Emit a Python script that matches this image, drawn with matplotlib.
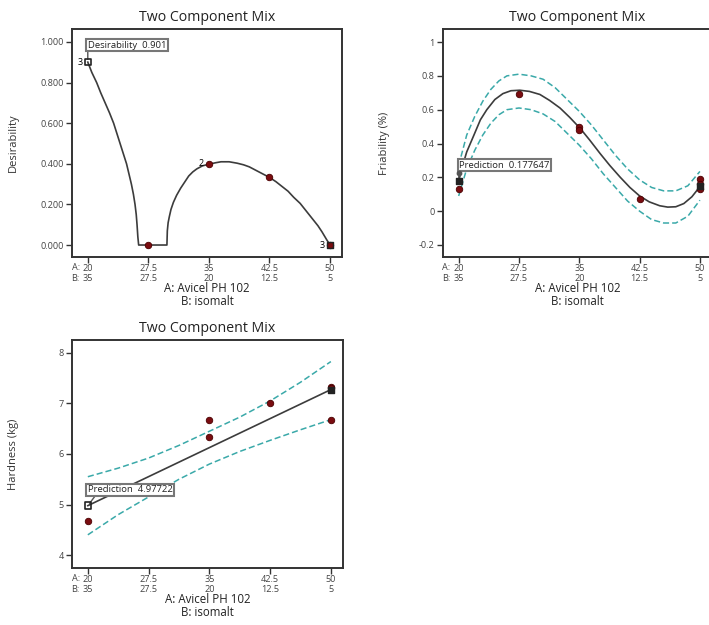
import matplotlib.pyplot as plt
import matplotlib.transforms as mtransforms

plt.rcParams['font.family'] = ['Open Sans', 'DejaVu Sans']

# shared x axis
x_ticks = [20, 27.5, 35, 42.5, 50]
b_ticks = ['35', '27.5', '20', '12.5', '5']

# Desirability
des_x = [20, 20.5, 21.1, 21.6, 22.15, 22.7, 23.2, 23.6, 24.0, 24.4, 24.8, 25.1, 25.4, 25.65, 25.85,
         26.0, 26.1, 26.2, 26.3, 29.8, 29.85, 29.95, 30.1, 30.3, 30.6, 31.0, 31.5, 32.0, 32.5, 33.0,
         33.5, 34.2, 35, 35.8, 36.5, 37.5, 38.5, 39.3, 40, 41.2, 42.5, 43.3, 44, 44.8, 45.5, 46.3,
         47, 47.5, 48, 48.5, 49, 49.6, 50]
des_y = [0.901, 0.85, 0.80, 0.75, 0.70, 0.65, 0.60, 0.55, 0.50, 0.45, 0.40, 0.35, 0.30, 0.25, 0.20,
         0.15, 0.10, 0.04, 0.0, 0.0, 0.07, 0.11, 0.14, 0.175, 0.21, 0.245, 0.28, 0.31, 0.34, 0.36,
         0.375, 0.39, 0.398, 0.405, 0.41, 0.41, 0.403, 0.395, 0.385, 0.36, 0.333, 0.312, 0.29, 0.265,
         0.235, 0.205, 0.17, 0.145, 0.12, 0.095, 0.065, 0.025, 0.0]
des_pts_x = [27.5, 35, 42.5, 50]
des_pts_y = [0.0, 0.398, 0.333, 0.0]

# Friability
fri_x = [20, 20.5, 21, 21.9, 22.7, 23.5, 24.5, 25.5, 26.5, 27.6, 28.8, 30.1, 31.3, 32.6, 33.8,
         35.1, 36.3, 37.6, 38.8, 40.1, 41.3, 42.5, 43.7, 45, 46, 47, 48, 49, 50]
fri_y = [0.178, 0.27, 0.35, 0.45, 0.54, 0.60, 0.66, 0.695, 0.712, 0.715, 0.708, 0.69, 0.655, 0.61,
         0.555, 0.49, 0.42, 0.34, 0.27, 0.20, 0.14, 0.09, 0.055, 0.032, 0.024, 0.026, 0.045, 0.085, 0.145]
fri_band_x = [20, 21, 22, 23, 24, 25, 26, 27.5, 29, 30.5, 32, 33.5, 35, 36.5, 38, 39.5, 41, 42.5,
              44, 45.5, 47, 48.5, 50]
fri_hi = [0.27, 0.45, 0.56, 0.65, 0.72, 0.77, 0.80, 0.81, 0.80, 0.78, 0.73, 0.66, 0.59, 0.51, 0.42,
          0.33, 0.25, 0.185, 0.14, 0.12, 0.12, 0.15, 0.235]
fri_lo = [0.09, 0.25, 0.36, 0.45, 0.52, 0.57, 0.60, 0.61, 0.60, 0.575, 0.53, 0.46, 0.39, 0.31, 0.22,
          0.14, 0.06, 0.0, -0.05, -0.07, -0.07, -0.03, 0.065]
fri_pts_x = [20, 27.5, 35, 35, 42.5, 50, 50, 50]
fri_pts_y = [0.13, 0.69, 0.50, 0.48, 0.07, 0.19, 0.16, 0.13]
fri_pred = 0.177647

# Hardness
har_x = [20, 50]
har_y = [4.97722, 7.275]
har_band_x = [20, 23.75, 27.5, 31.25, 35, 38.75, 42.5, 46.25, 50]
har_hi = [5.55, 5.72, 5.92, 6.17, 6.45, 6.73, 7.05, 7.42, 7.83]
har_lo = [4.40, 4.80, 5.15, 5.50, 5.80, 6.05, 6.27, 6.48, 6.68]
har_pts_x = [20, 35, 35, 42.5, 50, 50, 50]
har_pts_y = [4.67, 6.67, 6.33, 7.0, 7.33, 7.30, 6.67]

curve_c = '#3c3c3c'
band_c = '#3aa9a9'
pt_c = '#7a0c10'
tick_fs = 6.6

fig = plt.figure(figsize=(7.09, 6.25), dpi=100)


def style(ax, ylim, yticks, ylabels, ylab, lab_x):
    ax.set_xlim(18.05, 51.5)
    ax.set_ylim(*ylim)
    ax.set_xticks(x_ticks)
    ax.set_xticklabels([f"{a:g}\n{b}" for a, b in zip(x_ticks, b_ticks)], fontsize=tick_fs,
                       linespacing=1.2, color='#444444')
    ax.set_yticks(yticks)
    ax.set_yticklabels(ylabels, fontsize=tick_fs, color='#444444')
    ax.tick_params(length=4, width=1, color='#333333', pad=2)
    ax.tick_params(axis='x', pad=1)
    for s in ax.spines.values():
        s.set_linewidth(1.4)
        s.set_color('#333333')
    ax.set_title('Two Component Mix', fontsize=10.2, color='#222222', pad=6)
    ax.set_xlabel('A: Avicel PH 102\nB: isomalt', fontsize=8.3, color='#222222', labelpad=-1,
                  linespacing=1.0)
    fig.text(lab_x, ax.get_position().y0 + ax.get_position().height / 2, ylab, rotation=90,
             fontsize=8, color='#333333', ha='center', va='center')
    tr = mtransforms.blended_transform_factory(ax.transData, ax.transAxes)
    ax.text(19.0, -0.028, 'A:', transform=tr, fontsize=tick_fs, ha='right', va='top', color='#444444')
    ax.text(19.0, -0.074, 'B:', transform=tr, fontsize=tick_fs, ha='right', va='top', color='#444444')


def label_box(ax, xy, xytext, text, relpos=(0, 0)):
    ax.annotate(text, xy=xy, xytext=xytext, textcoords='data', fontsize=6.8, color='#222222',
                ha='left', va='bottom',
                bbox=dict(boxstyle='square,pad=0.15', fc='white', ec='#777777', lw=1.5),
                arrowprops=dict(arrowstyle='-', color='#555555', lw=1, shrinkA=0, shrinkB=2,
                                relpos=relpos))


# Panel 1: desirability
ax1 = fig.add_axes([0.1016, 0.5888, 0.381, 0.3648])
ax1.plot(des_x, des_y, color=curve_c, lw=1.2, zorder=2)
ax1.scatter(des_pts_x, des_pts_y, s=22, color=pt_c, edgecolors='#4a0000', lw=0.6, zorder=3)
ax1.scatter([20], [0.901], s=22, marker='s', facecolor='none', edgecolors='#222222', lw=1.2, zorder=4)
ax1.scatter([50], [0.0], s=22, marker='s', facecolor='none', edgecolors='#222222', lw=1, zorder=4)
ax1.text(19.4, 0.901, '3', fontsize=6.5, ha='right', va='center')
ax1.text(34.4, 0.40, '2', fontsize=6.5, ha='right', va='center')
ax1.text(49.4, 0.0, '3', fontsize=6.5, ha='right', va='center')
label_box(ax1, (20, 0.901), (20.0, 0.962), 'Desirability  0.901')
style(ax1, (-0.059, 1.064), [0, 0.2, 0.4, 0.6, 0.8, 1.0],
      ['0.000', '0.200', '0.400', '0.600', '0.800', '1.000'], 'Desirability', 0.019)

# Panel 2: friability
ax2 = fig.add_axes([0.6248, 0.5888, 0.3794, 0.3648])
ax2.plot(fri_band_x, fri_hi, color=band_c, lw=1.1, ls=(0, (4, 2)), zorder=2)
ax2.plot(fri_band_x, fri_lo, color=band_c, lw=1.1, ls=(0, (4, 2)), zorder=2)
ax2.plot(fri_x, fri_y, color=curve_c, lw=1.2, zorder=2)
ax2.scatter(fri_pts_x, fri_pts_y, s=22, color=pt_c, edgecolors='#4a0000', lw=0.6, zorder=3)
ax2.scatter([20, 50], [fri_pred, 0.15], s=18, marker='s', color='#222222', zorder=4)
ax2.scatter([20], [0.225], s=10, color='#555555', zorder=4)
label_box(ax2, (20, fri_pred), (20.05, 0.245), 'Prediction  0.177647')
style(ax2, (-0.271, 1.077), [-0.2, 0, 0.2, 0.4, 0.6, 0.8, 1.0],
      ['-0.2', '0', '0.2', '0.4', '0.6', '0.8', '1'], 'Friability (%)', 0.543)

# Panel 3: hardness
ax3 = fig.add_axes([0.1016, 0.0912, 0.3822, 0.3648])
ax3.plot(har_band_x, har_hi, color=band_c, lw=1.1, ls=(0, (4, 2)), zorder=2)
ax3.plot(har_band_x, har_lo, color=band_c, lw=1.1, ls=(0, (4, 2)), zorder=2)
ax3.plot(har_x, har_y, color=curve_c, lw=1.2, zorder=2)
ax3.scatter(har_pts_x, har_pts_y, s=22, color=pt_c, edgecolors='#4a0000', lw=0.6, zorder=3)
ax3.scatter([20], [har_y[0]], s=22, marker='s', facecolor='none', edgecolors='#222222', lw=1.2, zorder=4)
ax3.scatter([50], [har_y[1]], s=18, marker='s', color='#222222', zorder=4)
label_box(ax3, (20, har_y[0]), (20.0, 5.2), 'Prediction  4.97722', relpos=(0.1, 0))
style(ax3, (3.743, 8.257), [4, 5, 6, 7, 8], ['4', '5', '6', '7', '8'], 'Hardness (kg)', 0.019)

fig.savefig('out.png', dpi=100)
